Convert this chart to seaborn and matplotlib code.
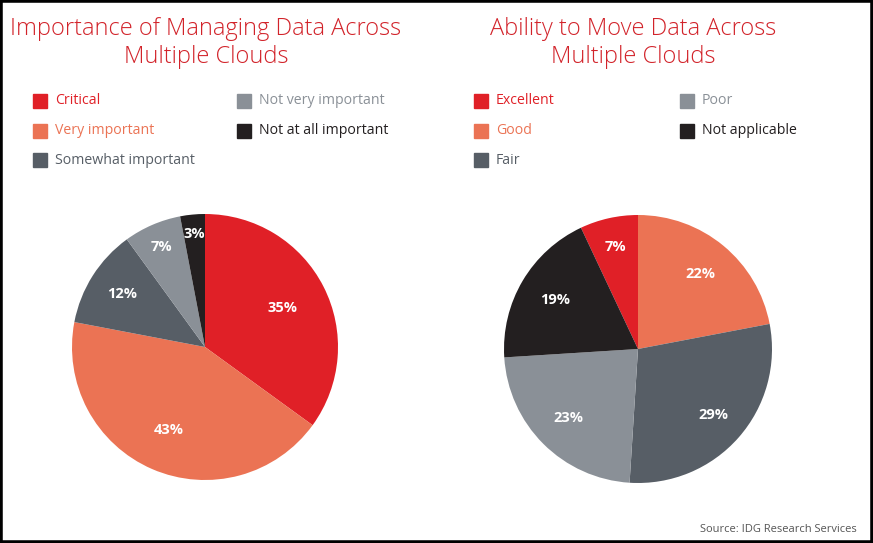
import seaborn as sns
import matplotlib.pyplot as plt
import numpy as np

# data
left_title = "Importance of Managing Data Across\nMultiple Clouds"
left_labels = ["Critical", "Very important", "Somewhat important", "Not very important", "Not at all important"]
left_values = [35, 43, 12, 7, 3]

right_title = "Ability to Move Data Across\nMultiple Clouds"
right_labels = ["Excellent", "Good", "Fair", "Poor", "Not applicable"]
right_values = [7, 22, 29, 23, 19]

source = "Source: IDG Research Services"

sns.set_style("white")
plt.rcParams['font.family'] = ['Open Sans', 'DejaVu Sans']

colors = sns.color_palette(["#E02027", "#EB7354", "#575E66", "#8A9097", "#231F20"])
title_red = "#D2232A"

W, H = 873, 543
fig = plt.figure(figsize=(W / 100, H / 100), dpi=100)


def px_axes(x0, y0, x1, y1):
    # pixel box (top-left origin) -> figure axes
    return fig.add_axes([x0 / W, 1 - y1 / H, (x1 - x0) / W, (y1 - y0) / H])


def draw_pie(ax, values, start, label_r):
    wedges, _ = ax.pie(values, colors=colors, startangle=start, counterclock=False,
                       radius=1, wedgeprops=dict(linewidth=0))
    for w, v, r in zip(wedges, values, label_r):
        mid = np.deg2rad((w.theta1 + w.theta2) / 2)
        ax.text(r * np.cos(mid), r * np.sin(mid), f"{v}%", color="white",
                fontsize=10.5, fontweight="bold", ha="center", va="center")
    ax.set_xlim(-1, 1)
    ax.set_ylim(-1, 1)
    ax.set_aspect("equal")
    ax.axis("off")


def draw_legend(labels, x_cols, ys):
    for i, (lab, col) in enumerate(zip(labels, colors)):
        x = x_cols[i // 3]
        y = ys[i % 3]
        fig.patches.append(plt.Rectangle((x / W, 1 - (y + 7) / H), 14 / W, 14 / H,
                                         transform=fig.transFigure, color=col))
        fig.text((x + 22) / W, 1 - y / H, lab, color=col, fontsize=10.2,
                 ha="left", va="center")


# left pie
ax1 = px_axes(72, 214, 338, 480)
draw_pie(ax1, left_values, 90, [0.65, 0.68, 0.74, 0.82, 0.85])
fig.text(206 / W, 1 - 43 / H, left_title, color=title_red, fontsize=17,
         ha="center", va="center", linespacing=1.25, fontweight="light")
draw_legend(left_labels, [33, 237], [101, 131, 160])

# right pie
ax2 = px_axes(504, 215, 772, 483)
draw_pie(ax2, right_values, 90 + right_values[0] * 3.6, [0.78, 0.73, 0.75, 0.73, 0.72])
fig.text(633 / W, 1 - 43 / H, right_title, color=title_red, fontsize=17,
         ha="center", va="center", linespacing=1.25, fontweight="light")
draw_legend(right_labels, [474, 680], [101, 131, 160])

fig.text(857 / W, 1 - 529 / H, source, color="#555555", fontsize=8,
         ha="right", va="center")

# outer frame
fig.patches.append(plt.Rectangle((0, 0), 1, 1, transform=fig.transFigure,
                                 fill=False, edgecolor="black", linewidth=4))

fig.savefig("out.png", dpi=100)
